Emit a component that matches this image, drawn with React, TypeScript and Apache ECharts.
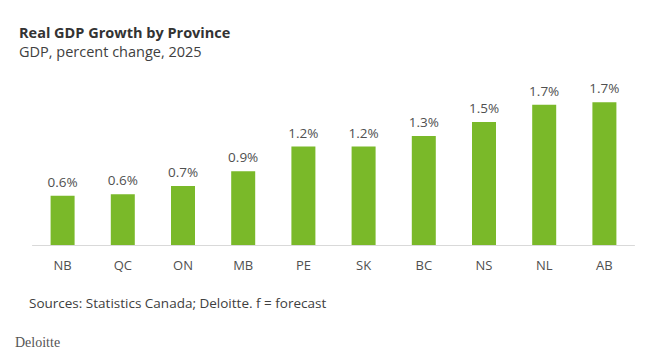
import React, { useEffect, useRef } from "react";
import * as echarts from "echarts";

const categories = ["NB", "QC", "ON", "MB", "PE", "SK", "BC", "NS", "NL", "AB"];
const growth = [0.6, 0.62, 0.72, 0.9, 1.2, 1.2, 1.33, 1.5, 1.71, 1.74];
const titleText = "Real GDP Growth by Province";
const subtitleText = "GDP, percent change, 2025";
const sourceText = "Sources: Statistics Canada; Deloitte. f = forecast";
const brandText = "Deloitte";

export default function App() {
  const ref = useRef<HTMLDivElement>(null);
  useEffect(() => {
    document.body.style.margin = "0";
    const chart = echarts.init(ref.current!, null, { renderer: "svg" });
    const font = "'Open Sans', 'Noto Sans', sans-serif";
    chart.setOption({
      animation: false,
      backgroundColor: "#ffffff",
      grid: { left: 32.5, right: 15.5, top: 81, bottom: 112, containLabel: false },
      xAxis: {
        type: "category",
        data: categories,
        axisLine: { lineStyle: { color: "#D9D9D9", width: 1 } },
        axisTick: { show: false },
        axisLabel: { color: "#505050", fontSize: 13, fontFamily: font, margin: 13 },
      },
      yAxis: {
        type: "value",
        min: 0,
        max: 2,
        show: false,
        splitLine: { show: false },
      },
      series: [
        {
          type: "bar",
          data: growth,
          barWidth: 24,
          itemStyle: { color: "#7AB929" },
          label: {
            show: true,
            position: "top",
            distance: 7,
            color: "#505050",
            fontSize: 13.5,
            fontFamily: font,
            formatter: (p: any) => p.value.toFixed(1) + "%",
          },
        },
      ],
      graphic: [
        {
          type: "text",
          left: 19,
          top: 25,
          style: { text: titleText, fill: "#333333", font: `bold 14.5px ${font}` },
        },
        {
          type: "text",
          left: 19,
          top: 44,
          style: { text: subtitleText, fill: "#404040", font: `14.5px ${font}` },
        },
        {
          type: "text",
          left: 29,
          top: 296,
          style: { text: sourceText, fill: "#404040", font: `13.5px ${font}` },
        },
        {
          type: "text",
          left: 15,
          top: 335,
          style: { text: brandText, fill: "#555555", font: `14px 'Liberation Serif', 'DejaVu Serif', serif` },
        },
      ],
    });
    return () => chart.dispose();
  }, []);
  return <div ref={ref} style={{ width: 650, height: 357 }} />;
}
